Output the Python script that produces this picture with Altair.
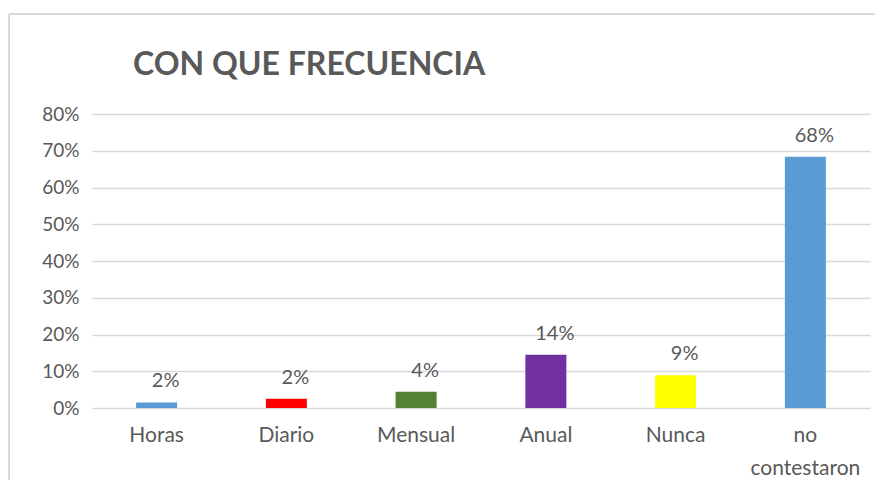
import altair as alt
import pandas as pd

categories = ["Horas", "Diario", "Mensual", "Anual", "Nunca", "no contestaron"]
values = [0.015, 0.025, 0.044, 0.145, 0.089, 0.684]
labels = ["2%", "2%", "4%", "14%", "9%", "68%"]
colors = ["#5B9BD5", "#FF0000", "#548235", "#7030A0", "#FFFF00", "#5B9BD5"]
y_ticks = [0, 0.1, 0.2, 0.3, 0.4, 0.5, 0.6, 0.7, 0.8]
chart_title = "CON QUE FRECUENCIA"

df = pd.DataFrame({"cat": categories, "val": values, "lab": labels, "col": colors})

FONT = "Lato"
TXT = "#595959"

x_enc = alt.X("cat:N", sort=categories, title=None,
              scale=alt.Scale(paddingInner=0.684, paddingOuter=0.34),
              axis=alt.Axis(labelExpr="split(datum.label, ' ')", labelAngle=0,
                            ticks=False, domain=False, grid=False,
                            labelPadding=16, labelFontSize=21, labelFont=FONT,
                            labelColor=TXT, labelLineHeight=33))
y_enc = alt.Y("val:Q", title=None,
              scale=alt.Scale(domain=[0, 0.8], nice=False),
              axis=alt.Axis(values=y_ticks, format=".0%", ticks=False, domain=False,
                            grid=True, gridColor="#D9D9D9", gridWidth=1.3,
                            labelOverlap=False,
                            labelPadding=13, labelFontSize=19, labelFont=FONT,
                            labelColor=TXT))

base = alt.Chart(df)

bars = base.mark_bar().encode(
    x=x_enc, y=y_enc,
    color=alt.Color("col:N", scale=None, legend=None),
)

text = base.mark_text(baseline="alphabetic", dy=-15, dx=9, fontSize=20,
                      font=FONT, color=TXT).encode(
    x=x_enc, y=y_enc, text="lab:N"
)

border_top = base.mark_rule(color="#D9D9D9", strokeWidth=2).encode(
    x=alt.value(-83), x2=alt.value(900), y=alt.value(-100)
)
border_left = base.mark_rule(color="#D9D9D9", strokeWidth=2).encode(
    x=alt.value(-83), y=alt.value(-100), y2=alt.value(400)
)
title_mark = alt.Chart(pd.DataFrame({"t": [chart_title]})).mark_text(
    align="left", baseline="alphabetic", fontSize=32, font=FONT,
    fontWeight="bold", color=TXT
).encode(x=alt.value(41), y=alt.value(-39), text="t:N")

chart = alt.layer(border_top, border_left, bars, text, title_mark).properties(
    width=778, height=294,
    autosize=alt.AutoSizeParams(type="none"),
    padding={"left": 84, "top": 106, "right": 5, "bottom": 72},
).configure_view(stroke=None)

chart.save("out.html", embed_options={"renderer": "svg", "actions": False})
